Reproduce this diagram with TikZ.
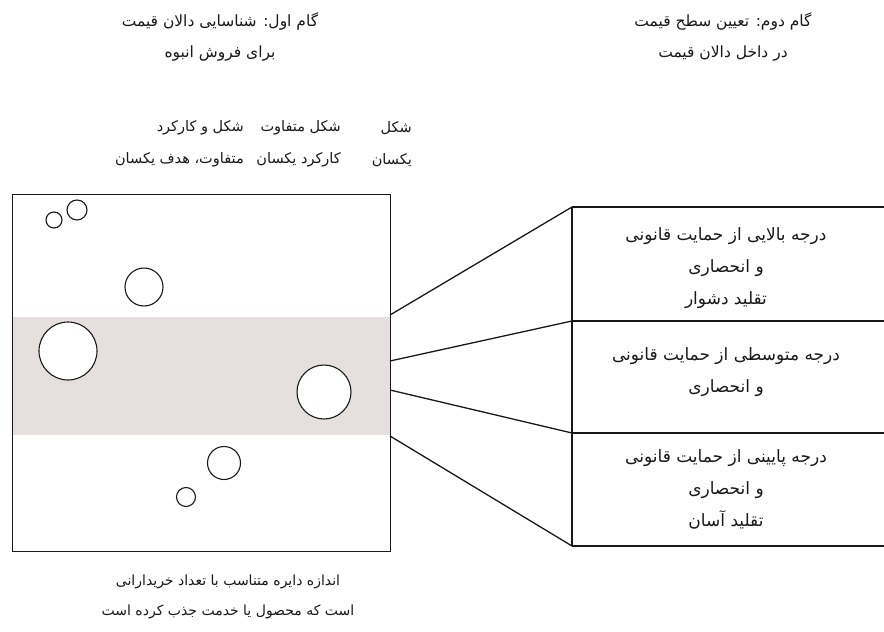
\documentclass[tikz,border=0pt]{standalone}
\usepackage{fontspec}
\newfontfamily\arabicfont[Script=Arabic]{DejaVu Sans}
\TeXXeTstate=1
\newcommand\fa[1]{{\arabicfont\beginR #1\endR}}
\definecolor{bandcol}{RGB}{229,223,222}
\definecolor{ink}{RGB}{25,25,25}
\begin{document}
\begin{tikzpicture}[x=1pt,y=-1pt,
  txt/.style={inner sep=0pt, align=center, text=ink},
  ttl/.style={txt, font=\fontsize{15.5}{30.5}\selectfont},
  boxtxt/.style={txt, font=\fontsize{17}{32}\selectfont},
  captxt/.style={txt, font=\fontsize{14}{30.5}\selectfont},
  rtxt/.style={font=\fontsize{14.5}{32}\selectfont, inner sep=0pt, align=right, anchor=east, text=ink},
  frame/.style={line width=1.3pt, draw=ink},
  blob/.style={circle, draw=ink, line width=1.1pt, fill=white, inner sep=0pt}]
\useasboundingbox (0,0) rectangle (884,632);
% titles
\node[ttl] (t1) at (220,37) {\fa{گام اول: شناسایی دالان قیمت}\\\fa{برای فروش انبوه}};
\node[ttl] (t2) at (723,37) {\fa{گام دوم: تعیین سطح قیمت}\\\fa{در داخل دالان قیمت}};
% column headers
\node[rtxt] (h1) at (412,144) {\fa{شکل}\\\fa{یکسان}};
\node[rtxt] (h2) at (341,144) {\fa{شکل متفاوت}\\\fa{کارکرد یکسان}};
\node[rtxt] (h3) at (244,144) {\fa{شکل و کارکرد}\\\fa{متفاوت، هدف یکسان}};
% square with band
\fill[bandcol] (12,317) rectangle (390,435);
\node[frame, minimum width=378pt, minimum height=357pt, inner sep=0pt, anchor=north west] (sq) at (12,194) {};
% circles
\node[blob, minimum size=16pt] (c1) at (54,220) {};
\node[blob, minimum size=20pt] (c2) at (77,210) {};
\node[blob, minimum size=38pt] (c3) at (144,287) {};
\node[blob, minimum size=58pt] (c4) at (68,351) {};
\node[blob, minimum size=54pt] (c5) at (324,392) {};
\node[blob, minimum size=33pt] (c6) at (224,463) {};
\node[blob, minimum size=19pt] (c7) at (186,497) {};
% bottom caption
\node[captxt] (cap) at (228,597) {\fa{اندازه دایره متناسب با تعداد خریدارانی}\\\fa{است که محصول یا خدمت جذب کرده است}};
% connector points
\coordinate (s0) at (390,315);
\coordinate (s1) at (390,361);
\coordinate (s2) at (390,390);
\coordinate (s3) at (390,436);
\coordinate (b0) at (572,207);
\coordinate (b1) at (572,321);
\coordinate (b2) at (572,433);
\coordinate (b3) at (572,546);
\coordinate (e0) at (884,207);
\coordinate (e1) at (884,321);
\coordinate (e2) at (884,433);
\coordinate (e3) at (884,546);
\draw[frame] (s0) -- (b0);
\draw[frame] (s1) -- (b1);
\draw[frame] (s2) -- (b2);
\draw[frame] (s3) -- (b3);
\draw[frame] (b0) -- (b3);
\draw[frame] (b0) -- (e0);
\draw[frame] (b1) -- (e1);
\draw[frame] (b2) -- (e2);
\draw[frame] (b3) -- (e3);
% box texts
\node[boxtxt] (r1) at (726,268) {\fa{درجه بالایی از حمایت قانونی}\\\fa{و انحصاری}\\\fa{تقلید دشوار}};
\node[boxtxt] (r2) at (726,372) {\fa{درجه متوسطی از حمایت قانونی}\\\fa{و انحصاری}};
\node[boxtxt] (r3) at (726,489) {\fa{درجه پایینی از حمایت قانونی}\\\fa{و انحصاری}\\\fa{تقلید آسان}};
\end{tikzpicture}
\end{document}
